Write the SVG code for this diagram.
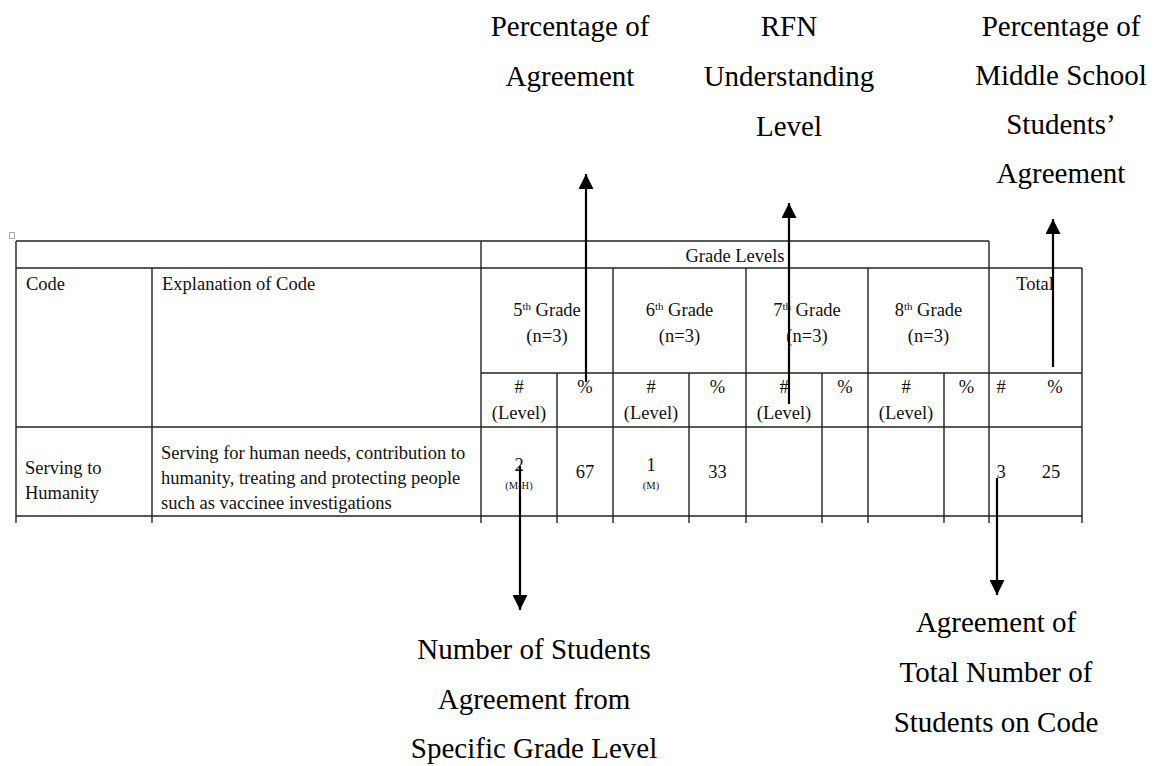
<svg xmlns="http://www.w3.org/2000/svg" width="1160" height="766" viewBox="0 0 1160 766">
<style>
.lbl{font-family:"Liberation Serif","Times New Roman",serif;font-size:29px;fill:#000;text-anchor:middle}
.t{font-family:"Liberation Serif","Times New Roman",serif;font-size:18.5px;fill:#111}
.c{text-anchor:middle}
.sm{font-size:10.5px}
.sup{font-size:11px}
.grid line{stroke:#222;stroke-width:1.4}
.arr{stroke:#000;stroke-width:2.2;fill:none}
</style>
<defs>
<marker id="ah" viewBox="0 0 10 10" refX="10" refY="5" markerWidth="15" markerHeight="15" markerUnits="userSpaceOnUse" orient="auto">
<path d="M0,0 L10,5 L0,10 Z" fill="#000"/>
</marker>
</defs>
<rect width="1160" height="766" fill="#fff"/>

<g id="table">
<rect x="9.5" y="232.5" width="5" height="6" fill="none" stroke="#aaa" stroke-width="1"/>
<g class="grid">
<line x1="16" y1="241" x2="989" y2="241"/>
<line x1="16" y1="268" x2="1082" y2="268"/>
<line x1="481" y1="373" x2="1082" y2="373"/>
<line x1="16" y1="427" x2="1082" y2="427"/>
<line x1="16" y1="516" x2="1082" y2="516"/>
<line x1="16" y1="241" x2="16" y2="523"/>
<line x1="152" y1="268" x2="152" y2="523"/>
<line x1="481" y1="241" x2="481" y2="523"/>
<line x1="557" y1="373" x2="557" y2="523"/>
<line x1="613" y1="268" x2="613" y2="523"/>
<line x1="689" y1="373" x2="689" y2="523"/>
<line x1="746" y1="268" x2="746" y2="523"/>
<line x1="822" y1="373" x2="822" y2="523"/>
<line x1="868" y1="268" x2="868" y2="523"/>
<line x1="944" y1="373" x2="944" y2="523"/>
<line x1="989" y1="241" x2="989" y2="523"/>
<line x1="1082" y1="268" x2="1082" y2="523"/>
</g>
<text class="t c" x="735" y="262">Grade Levels</text>
<text class="t" x="26" y="290">Code</text>
<text class="t" x="162" y="290">Explanation of Code</text>
<text class="t c" x="1035" y="290">Total</text>

<text class="t c" x="547" y="316">5<tspan class="sup" dy="-6">th</tspan><tspan dy="6"> Grade</tspan></text>
<text class="t c" x="547" y="342">(n=3)</text>
<text class="t c" x="679.5" y="316">6<tspan class="sup" dy="-6">th</tspan><tspan dy="6"> Grade</tspan></text>
<text class="t c" x="679.5" y="342">(n=3)</text>
<text class="t c" x="807" y="316">7<tspan class="sup" dy="-6">th</tspan><tspan dy="6"> Grade</tspan></text>
<text class="t c" x="807" y="342">(n=3)</text>
<text class="t c" x="928.5" y="316">8<tspan class="sup" dy="-6">th</tspan><tspan dy="6"> Grade</tspan></text>
<text class="t c" x="928.5" y="342">(n=3)</text>

<text class="t c" x="519" y="393">#</text>
<text class="t c" x="519" y="419">(Level)</text>
<text class="t c" x="585" y="393">%</text>
<text class="t c" x="651" y="393">#</text>
<text class="t c" x="651" y="419">(Level)</text>
<text class="t c" x="717.5" y="393">%</text>
<text class="t c" x="784" y="393">#</text>
<text class="t c" x="784" y="419">(Level)</text>
<text class="t c" x="845" y="393">%</text>
<text class="t c" x="906" y="393">#</text>
<text class="t c" x="906" y="419">(Level)</text>
<text class="t c" x="966.5" y="393">%</text>
<text class="t c" x="1001" y="393">#</text>
<text class="t c" x="1055" y="393">%</text>

<text class="t" x="25" y="474">Serving to</text>
<text class="t" x="25" y="499">Humanity</text>
<text class="t" x="161" y="459">Serving for human needs, contribution to</text>
<text class="t" x="161" y="484">humanity, treating and protecting people</text>
<text class="t" x="161" y="509">such as vaccinee investigations</text>

<text class="t c" x="519" y="471">2</text>
<text class="t c sm" x="519" y="489">(M-H)</text>
<text class="t c" x="585" y="478">67</text>
<text class="t c" x="651" y="471">1</text>
<text class="t c sm" x="651" y="489">(M)</text>
<text class="t c" x="717.5" y="478">33</text>
<text class="t c" x="1001" y="478">3</text>
<text class="t c" x="1051" y="478">25</text>
</g>

<g id="label-percentage">
<text class="lbl" x="570" y="36">Percentage of</text>
<text class="lbl" x="570" y="86">Agreement</text>
</g>
<g id="label-rfn">
<text class="lbl" x="789" y="36">RFN</text>
<text class="lbl" x="789" y="86">Understanding</text>
<text class="lbl" x="789" y="136">Level</text>
</g>
<g id="label-middle-school">
<text class="lbl" x="1061" y="36">Percentage of</text>
<text class="lbl" x="1061" y="85">Middle School</text>
<text class="lbl" x="1061" y="134">Students’</text>
<text class="lbl" x="1061" y="183">Agreement</text>
</g>
<g id="label-number-students">
<text class="lbl" x="534" y="659">Number of Students</text>
<text class="lbl" x="534" y="709">Agreement from</text>
<text class="lbl" x="534" y="758">Specific Grade Level</text>
</g>
<g id="label-total-number">
<text class="lbl" x="996" y="632">Agreement of</text>
<text class="lbl" x="996" y="682">Total Number of</text>
<text class="lbl" x="996" y="732">Students on Code</text>
</g>

<g id="connectors">
<line class="arr" x1="586" y1="382" x2="586" y2="174" marker-end="url(#ah)"/>
<line class="arr" x1="789" y1="404" x2="789" y2="203" marker-end="url(#ah)"/>
<line class="arr" x1="1053" y1="367" x2="1053" y2="219" marker-end="url(#ah)"/>
<line class="arr" x1="520" y1="466" x2="520" y2="610" marker-end="url(#ah)"/>
<line class="arr" x1="997" y1="478" x2="997" y2="595" marker-end="url(#ah)"/>
</g>
</svg>
